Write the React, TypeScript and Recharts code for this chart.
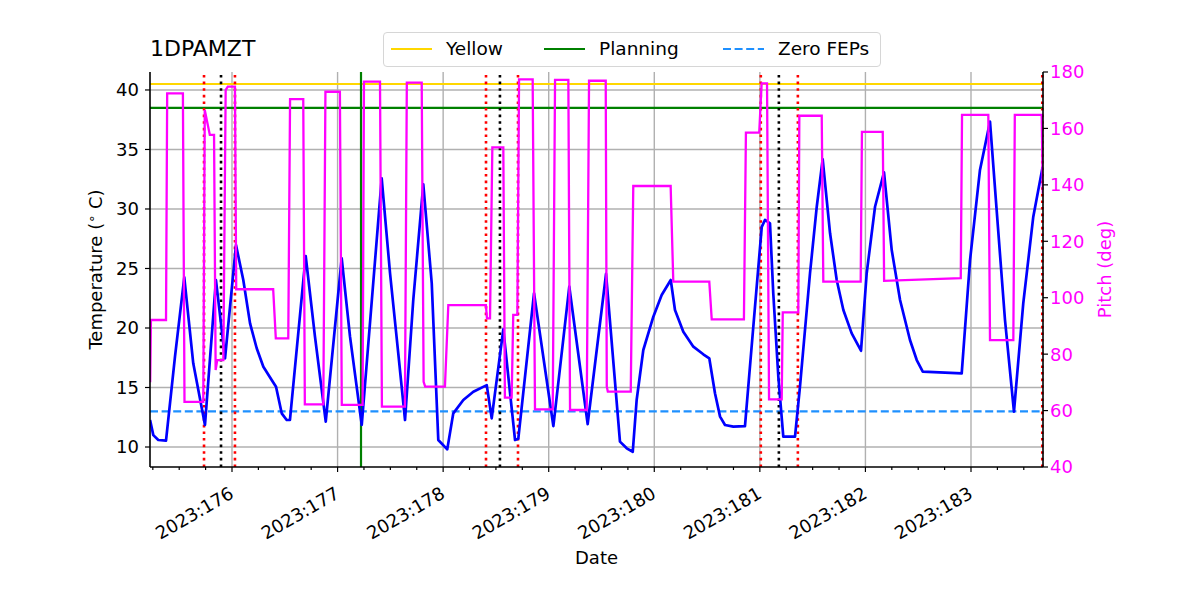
import React from 'react';
import {
  LineChart,
  Line,
  XAxis,
  YAxis,
  CartesianGrid,
  ReferenceLine,
} from 'recharts';

// day-of-year (2023) and temperature in degC
const tempDays = [
  175.224, 175.2545, 175.302, 175.375, 175.46, 175.548, 175.633, 175.744, 175.848, 175.934,
  176.038, 176.107, 176.171, 176.234, 176.297, 176.376, 176.417, 176.471, 176.518, 176.549,
  176.698, 176.786, 176.888, 177.039, 177.118, 177.229, 177.418, 177.497, 177.575, 177.639,
  177.717, 177.812, 177.892, 177.954, 178.039, 178.096, 178.191, 178.286, 178.413, 178.46,
  178.57, 178.681, 178.712, 178.861, 179.044, 179.195, 179.369, 179.543, 179.675, 179.739,
  179.796, 179.833, 179.896, 179.991, 180.07, 180.156, 180.196, 180.275, 180.37, 180.464,
  180.521, 180.575, 180.623, 180.67, 180.749, 180.859, 180.938, 181.018, 181.049, 181.096,
  181.127, 181.175, 181.222, 181.333, 181.38, 181.475, 181.539, 181.595, 181.665, 181.728,
  181.791, 181.87, 181.958, 182.012, 182.091, 182.176, 182.249, 182.328, 182.422, 182.486,
  182.543, 182.912, 182.991, 183.085, 183.18, 183.243, 183.322, 183.407, 183.495, 183.59,
  183.679,
];
const tempValues = [
  12.27, 11.0, 10.59, 10.53, 17.6, 24.26, 17.03, 11.85, 24.03, 17.45,
  26.97, 24.03, 20.39, 18.3, 16.75, 15.63, 15.07, 12.83, 12.27, 12.27,
  26.05, 19.27, 12.13, 25.86, 19.27, 11.85, 32.58, 24.6, 17.87, 12.27,
  22.35, 32.07, 23.76, 10.59, 9.8, 12.83, 13.95, 14.65, 15.2, 12.41,
  19.89, 10.59, 10.7, 22.92, 11.76, 23.47, 11.93, 24.54, 10.45, 9.89,
  9.6, 13.95, 18.15, 20.95, 22.77, 24.03, 21.51, 19.69, 18.43, 17.79,
  17.45, 14.51, 12.55, 11.85, 11.71, 11.75, 20.11, 28.5, 29.08, 28.8,
  22.92, 15.9, 10.87, 10.87, 15.07, 24.6, 30.19, 34.18, 27.96, 24.03,
  21.51, 19.55, 18.09, 24.6, 30.19, 33.08, 26.55, 22.35, 18.99, 17.31,
  16.33, 16.19, 25.71, 33.28, 37.34, 29.9, 20.67, 12.97, 22.07, 29.35,
  33.55,
];

// day-of-year and pitch in deg
const pitchDays = [
  175.225, 175.232, 175.375, 175.386, 175.535, 175.55, 175.728, 175.742, 175.79, 175.83,
  175.845, 175.86, 175.918, 175.94, 175.96, 176.028, 176.04, 176.39, 176.415, 176.533,
  176.55, 176.675, 176.69, 176.865, 176.885, 177.022, 177.04, 177.237, 177.25, 177.402,
  177.42, 177.638, 177.656, 177.797, 177.815, 177.83, 178.017, 178.049, 178.405, 178.415,
  178.444, 178.466, 178.57, 178.585, 178.649, 178.664, 178.703, 178.719, 178.848, 178.87,
  179.038, 179.06, 179.186, 179.202, 179.36, 179.382, 179.54, 179.55, 179.56, 179.777,
  179.801, 180.155, 180.18, 180.521, 180.544, 180.849, 180.868, 180.994, 181.017, 181.068,
  181.087, 181.207, 181.217, 181.364, 181.374, 181.586, 181.601, 181.955, 181.967, 182.164,
  182.177, 182.903, 182.915, 183.164, 183.18, 183.401, 183.415, 183.67, 183.68,
];
const pitchValues = [
  70, 92.1, 92.1, 172.4, 172.4, 63.1, 63.1, 166.5, 157.7, 157.7,
  74.4, 77.9, 77.9, 173.6, 174.8, 174.8, 103, 103, 85.6, 85.6,
  170.4, 170.4, 62.2, 62.2, 173, 173, 62, 62, 176.6, 176.6,
  61.4, 61.4, 176.2, 176.2, 70.2, 68.5, 68.5, 97.4, 97.4, 92.7,
  92.7, 153.3, 153.3, 64.6, 64.6, 93.9, 93.9, 177.4, 177.4, 60.4,
  60.4, 177.2, 177.2, 60.2, 60.2, 176.9, 176.9, 68.5, 66.7, 66.7,
  139.6, 139.6, 105.7, 105.7, 92.3, 92.3, 158.5, 158.5, 176, 176,
  64, 64, 94.8, 94.8, 164.5, 164.5, 105.7, 105.7, 158.8, 158.8,
  106, 106.9, 164.8, 164.8, 85, 85, 164.8, 164.8, 137,
];

const yellowLimit = 40.5;
const planningLimit = 38.5;
const zeroFepsLimit = 13.0;
const planningTime = 177.222;
const redEvents = [175.735, 176.028, 178.406, 178.709, 181.009, 181.36, 183.675];
const blackEvents = [175.896, 178.538, 181.18];

const majorDays = [176, 177, 178, 179, 180, 181, 182, 183];
const minorDays = [
  175.25, 175.5, 175.75, 176, 176.25, 176.5, 176.75, 177, 177.25, 177.5, 177.75, 178,
  178.25, 178.5, 178.75, 179, 179.25, 179.5, 179.75, 180, 180.25, 180.5, 180.75, 181,
  181.25, 181.5, 181.75, 182, 182.25, 182.5, 182.75, 183, 183.25, 183.5,
];
const tempTicks = [10, 15, 20, 25, 30, 35, 40];
const pitchTicks = [40, 60, 80, 100, 120, 140, 160, 180];

const tempData = tempDays.map((d, i) => ({ d, temp: tempValues[i] }));
const pitchData = pitchDays.map((d, i) => ({ d, pitch: pitchValues[i] }));

const FONT = 'DejaVu Sans, sans-serif';
const FS = 18;
const MAGENTA = '#ff00ff';

const DateTick = (props: any) => {
  const { x, y, payload } = props;
  const v = payload.value;
  const major = Math.abs(v - Math.round(v)) < 1e-6;
  const ax = x + 3;
  const ay = y + 30;
  return (
    <g>
      <line x1={x} y1={y} x2={x} y2={y + (major ? 5 : 3)} stroke="#000" strokeWidth={1.2} />
      {major && (
        <text
          x={ax}
          y={ay}
          textAnchor="end"
          transform={`rotate(-30 ${ax} ${ay})`}
          fontFamily={FONT}
          fontSize={FS}
          fill="#000"
        >
          {`2023:${Math.round(v)}`}
        </text>
      )}
    </g>
  );
};

const TempLabel = (props: any) => {
  const { viewBox } = props;
  const cx = viewBox.x + 12;
  const cy = viewBox.y + viewBox.height / 2;
  return (
    <text
      x={cx}
      y={cy}
      textAnchor="middle"
      transform={`rotate(-90 ${cx} ${cy})`}
      fontFamily={FONT}
      fontSize={FS}
      fill="#000"
    >
      Temperature (
      <tspan fontSize={13} dy={-6}>∘</tspan>
      <tspan dy={6}> C)</tspan>
    </text>
  );
};

const PitchLabel = (props: any) => {
  const { viewBox } = props;
  const cx = viewBox.x + 68;
  const cy = viewBox.y + viewBox.height / 2;
  return (
    <text
      x={cx}
      y={cy}
      textAnchor="middle"
      transform={`rotate(-90 ${cx} ${cy})`}
      fontFamily={FONT}
      fontSize={FS}
      fill={MAGENTA}
    >
      Pitch (deg)
    </text>
  );
};

const DateLabel = (props: any) => {
  const { viewBox } = props;
  return (
    <text
      x={viewBox.x + viewBox.width / 2}
      y={viewBox.y + 97}
      textAnchor="middle"
      fontFamily={FONT}
      fontSize={FS}
      fill="#000"
    >
      Date
    </text>
  );
};

const legendItems = [
  { name: 'Yellow', color: '#ffd700', dash: false },
  { name: 'Planning', color: '#008000', dash: false },
  { name: 'Zero FEPs', color: '#1e90ff', dash: true },
];

export default function App() {
  return (
    <div style={{ position: 'absolute', left: 0, top: 0, width: 1200, height: 600, background: '#fff' }}>
      <div
        style={{
          position: 'absolute',
          left: 150,
          top: 36,
          fontFamily: FONT,
          fontSize: 22,
          color: '#000',
          lineHeight: '26px',
        }}
      >
        1DPAMZT
      </div>
      <div
        style={{
          position: 'absolute',
          left: 383,
          top: 32,
          width: 496,
          height: 33,
          border: '1px solid #d6d6d6',
          borderRadius: 4,
          background: '#fff',
          zIndex: 2,
        }}
      >
        {legendItems.map((item, i) => (
          <div
            key={item.name}
            style={{
              position: 'absolute',
              left: [7, 160, 339][i],
              top: 3,
              display: 'flex',
              alignItems: 'center',
              fontFamily: FONT,
              fontSize: 18.5,
              lineHeight: '26px',
              color: '#000',
            }}
          >
            <svg width={42} height={10} style={{ marginRight: 13 }}>
              <line
                x1={0}
                y1={5}
                x2={41}
                y2={5}
                stroke={item.color}
                strokeWidth={2.2}
                strokeDasharray={item.dash ? '8 3.6' : undefined}
              />
            </svg>
            {item.name}
          </div>
        ))}
      </div>
      <LineChart
        width={1200}
        height={600}
        margin={{ top: 72, right: 97, bottom: 33, left: 90 }}
      >
        <CartesianGrid
          xAxisId="main"
          yAxisId="temp"
          stroke="#b0b0b0"
          strokeWidth={1.4}
          verticalValues={majorDays}
          horizontalValues={tempTicks}
        />
        <XAxis
          xAxisId="main"
          dataKey="d"
          type="number"
          domain={[175.2233, 183.682]}
          allowDataOverflow
          ticks={minorDays}
          interval={0}
          tick={<DateTick />}
          tickLine={false}
          tickSize={0}
          tickMargin={0}
          height={100}
          axisLine={{ stroke: '#000', strokeWidth: 1.6 }}
          label={<DateLabel />}
        />
        <XAxis
          xAxisId="top"
          orientation="top"
          dataKey="d"
          type="number"
          domain={[175.2233, 183.682]}
          allowDataOverflow
          tick={false}
          tickLine={false}
          height={0}
          axisLine={{ stroke: '#000', strokeWidth: 1.6 }}
        />
        <YAxis
          yAxisId="temp"
          type="number"
          domain={[8.32, 41.51]}
          allowDataOverflow
          ticks={tempTicks}
          interval={0}
          width={60}
          tickSize={5}
          tickMargin={6}
          tick={{ fill: '#000', fontFamily: FONT, fontSize: FS }}
          tickLine={{ stroke: '#000', strokeWidth: 1.2 }}
          axisLine={{ stroke: '#000', strokeWidth: 1.6 }}
          label={<TempLabel />}
        />
        <YAxis
          yAxisId="pitch"
          orientation="right"
          type="number"
          domain={[40, 180]}
          allowDataOverflow
          ticks={pitchTicks}
          interval={0}
          width={60}
          tickSize={5}
          tickMargin={2}
          tick={{ fill: MAGENTA, fontFamily: FONT, fontSize: FS }}
          tickLine={{ stroke: '#000', strokeWidth: 1.2 }}
          axisLine={{ stroke: '#000', strokeWidth: 1.6 }}
          label={<PitchLabel />}
        />
        <ReferenceLine xAxisId="main" yAxisId="temp" y={yellowLimit} stroke="#ffd700" strokeWidth={2.2} />
        <ReferenceLine xAxisId="main" yAxisId="temp" y={planningLimit} stroke="#008000" strokeWidth={2.2} />
        <ReferenceLine
          xAxisId="main"
          yAxisId="temp"
          y={zeroFepsLimit}
          stroke="#1e90ff"
          strokeWidth={2.2}
          strokeDasharray="8 3.6"
        />
        <ReferenceLine xAxisId="main" yAxisId="temp" x={planningTime} stroke="#008000" strokeWidth={2.2} />
        {redEvents.map((d) => (
          <ReferenceLine
            key={`r-${d}`}
            xAxisId="main"
            yAxisId="temp"
            x={d}
            stroke="#ff0000"
            strokeWidth={2.6}
            strokeDasharray="2.6 4"
          />
        ))}
        {blackEvents.map((d) => (
          <ReferenceLine
            key={`k-${d}`}
            xAxisId="main"
            yAxisId="temp"
            x={d}
            stroke="#000"
            strokeWidth={2.6}
            strokeDasharray="2.6 4"
          />
        ))}
        <Line
          xAxisId="main"
          yAxisId="temp"
          data={tempData}
          dataKey="temp"
          type="linear"
          stroke="#0000ff"
          strokeWidth={2.7}
          strokeLinejoin="round"
          dot={false}
          activeDot={false}
          isAnimationActive={false}
        />
        <Line
          xAxisId="main"
          yAxisId="pitch"
          data={pitchData}
          dataKey="pitch"
          type="linear"
          stroke={MAGENTA}
          strokeWidth={2.3}
          dot={false}
          activeDot={false}
          isAnimationActive={false}
        />
      </LineChart>
    </div>
  );
}
